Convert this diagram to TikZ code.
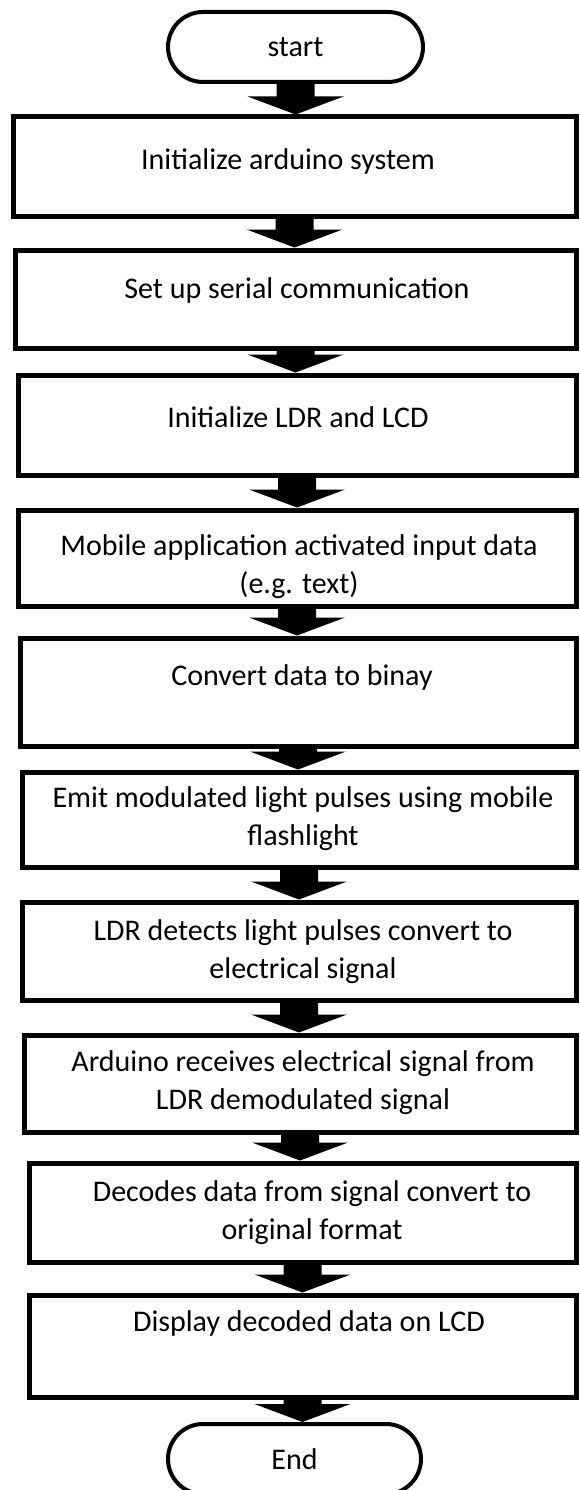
\documentclass[tikz,border=0pt]{standalone}
\usepackage{fontspec}
\setmainfont{Carlito}
\usetikzlibrary{shapes.misc,calc}

% block arrow from the bottom of one node to the top of the next
\newcommand\flowarrow[2]{%
  \fill let \p1=(#1.south), \p2=(#2.north) in
    (\x1-19pt,\y1) -- (\x1+19pt,\y1) -- (\x1+19pt,\y2+18pt) -- (\x1+48pt,\y2+18pt)
    -- (\x1,\y2) -- (\x1-48pt,\y2+18pt) -- (\x1-19pt,\y2+18pt) -- cycle;}

\begin{document}
\begin{tikzpicture}[x=1pt,y=-1pt,
  stepbox/.style={draw, line width=5pt, rectangle, inner sep=0pt},
  term/.style={draw, line width=4pt, rounded rectangle, inner sep=0pt,
    font=\fontsize{30}{38}\selectfont},
  txt/.style={font=\fontsize{30}{38}\selectfont, align=center, inner sep=0pt}]
\useasboundingbox (0,0) rectangle (579,1490);
\clip (0,0) rectangle (579,1490);
\fill[white] (0,0) rectangle (579,1490);

% terminals
\node[term, minimum width=255pt, minimum height=70pt] (start) at (295.5,47) {start};
\node[term, minimum width=253pt, minimum height=70pt] (end) at (294.5,1459) {End};

% process steps
\node[stepbox, minimum width=563pt, minimum height=99pt]  (b1)  at (294.5,166.5) {};
\node[stepbox, minimum width=561pt, minimum height=98pt]  (b2)  at (295.5,299) {};
\node[stepbox, minimum width=558pt, minimum height=100pt] (b3)  at (297,425) {};
\node[stepbox, minimum width=558pt, minimum height=96pt]  (b4)  at (297,558) {};
\node[stepbox, minimum width=556pt, minimum height=108pt] (b5)  at (298,692) {};
\node[stepbox, minimum width=554pt, minimum height=95pt]  (b6)  at (299,819.5) {};
\node[stepbox, minimum width=554pt, minimum height=98pt]  (b7)  at (299,951) {};
\node[stepbox, minimum width=552pt, minimum height=97pt]  (b8)  at (300,1083.5) {};
\node[stepbox, minimum width=547pt, minimum height=99pt]  (b9)  at (302.5,1212.5) {};
\node[stepbox, minimum width=547pt, minimum height=102pt] (b10) at (302.5,1346) {};

% step labels
\node[txt] (t1)  at (288,162)   {Initialize arduino system};
\node[txt] (t2)  at (297,290)   {Set up serial communication};
\node[txt] (t3)  at (298,417)   {Initialize LDR and LCD};
\node[txt] (t4)  at (299,567)   {Mobile application activated input data\\(e.g. text)};
\node[txt] (t5)  at (302,677)   {Convert data to binay};
\node[txt] (t6)  at (303,818.5) {Emit modulated light pulses using mobile\\flashlight};
\node[txt] (t7)  at (303,951.5) {LDR detects light pulses convert to\\electrical signal};
\node[txt] (t8)  at (303,1082.5){Arduino receives electrical signal from\\LDR demodulated signal};
\node[txt] (t9)  at (312,1213)  {Decodes data from signal convert to\\original format};
\node[txt] (t10) at (309,1323)  {Display decoded data on LCD};

% connectors
\flowarrow{start}{b1}
\flowarrow{b1}{b2}
\flowarrow{b2}{b3}
\flowarrow{b3}{b4}
\flowarrow{b4}{b5}
\flowarrow{b5}{b6}
\flowarrow{b6}{b7}
\flowarrow{b7}{b8}
\flowarrow{b8}{b9}
\flowarrow{b9}{b10}
\flowarrow{b10}{end}
\end{tikzpicture}
\end{document}
